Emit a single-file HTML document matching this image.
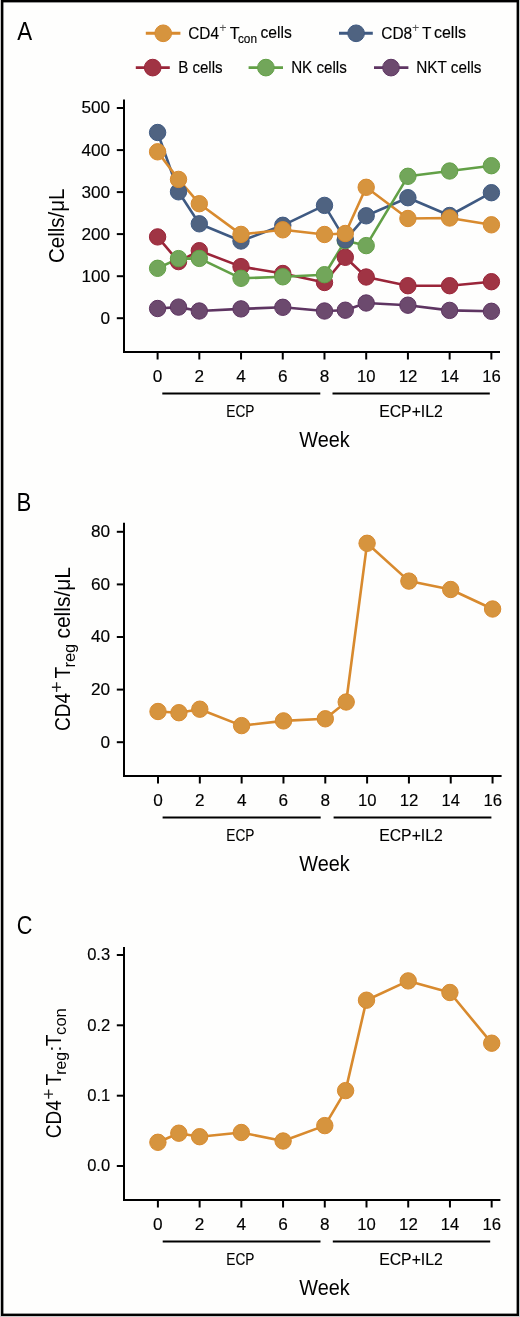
<!DOCTYPE html><html><head><meta charset="utf-8"><style>html,body{margin:0;padding:0;background:#c8c8c8;}svg{display:block;will-change:transform;}text{stroke:#000;stroke-width:0.15px;}g text{stroke-width:0px;}</style></head><body>
<svg width="520" height="1317" viewBox="0 0 520 1317" font-family='"Liberation Sans", sans-serif' fill="#000">
<rect x="0" y="0" width="520" height="1317" fill="#c8c8c8"/>
<rect x="1" y="0" width="518" height="1316" fill="#000"/>
<rect x="3.4" y="2.4" width="513.2" height="1311.2" fill="#fefefd"/>
<text x="17.36" y="39.90" font-size="26.0" textLength="14.89" lengthAdjust="spacingAndGlyphs" style="stroke-width:0">A</text>
<text x="16.58" y="510.70" font-size="26.0" textLength="14.79" lengthAdjust="spacingAndGlyphs" style="stroke-width:0">B</text>
<text x="16.70" y="934.40" font-size="26.0" textLength="15.62" lengthAdjust="spacingAndGlyphs" style="stroke-width:0">C</text>
<line x1="145.8" y1="33.3" x2="180.4" y2="33.3" stroke="#D88A2E" stroke-width="2.9"/>
<circle cx="163.2" cy="33.3" r="8.35" fill="#D6943E" stroke="#D88A2E" stroke-width="1"/>
<line x1="339" y1="33.3" x2="372.8" y2="33.3" stroke="#3F5A82" stroke-width="2.9"/>
<circle cx="356.1" cy="33.3" r="8.35" fill="#4F6381" stroke="#3F5A82" stroke-width="1"/>
<line x1="135.8" y1="67.6" x2="169.8" y2="67.6" stroke="#9A2539" stroke-width="2.9"/>
<circle cx="152.7" cy="67.6" r="8.35" fill="#A03444" stroke="#9A2539" stroke-width="1"/>
<line x1="248.6" y1="67.6" x2="283" y2="67.6" stroke="#62A046" stroke-width="2.9"/>
<circle cx="265.9" cy="67.6" r="8.35" fill="#72A65A" stroke="#62A046" stroke-width="1"/>
<line x1="374" y1="67.6" x2="408.4" y2="67.6" stroke="#5E3562" stroke-width="2.9"/>
<circle cx="391" cy="67.6" r="8.35" fill="#6C4A6E" stroke="#5E3562" stroke-width="1"/>
<text x="188.22" y="38.50" font-size="16.5" textLength="30.73" lengthAdjust="spacingAndGlyphs">CD4</text>
<text x="219.19" y="32.30" font-size="12.47" textLength="7.33" lengthAdjust="spacingAndGlyphs" fill="#555" style="stroke:none">+</text>
<text x="229.64" y="38.50" font-size="16.5" textLength="9.83" lengthAdjust="spacingAndGlyphs">T</text>
<text x="237.90" y="42.90" font-size="12.8" textLength="19.07" lengthAdjust="spacingAndGlyphs">con</text>
<text x="260.43" y="38.40" font-size="16.5" textLength="31.33" lengthAdjust="spacingAndGlyphs">cells</text>
<text x="381.21" y="38.50" font-size="16.5" textLength="30.96" lengthAdjust="spacingAndGlyphs">CD8</text>
<text x="411.99" y="32.30" font-size="12.47" textLength="7.33" lengthAdjust="spacingAndGlyphs" fill="#555" style="stroke:none">+</text>
<text x="422.05" y="38.50" font-size="16.5" textLength="9.40" lengthAdjust="spacingAndGlyphs">T</text>
<text x="433.92" y="38.40" font-size="16.5" textLength="32.06" lengthAdjust="spacingAndGlyphs">cells</text>
<text x="178.16" y="72.80" font-size="16.5" textLength="44.48" lengthAdjust="spacingAndGlyphs">B cells</text>
<text x="291.15" y="72.80" font-size="16.5" textLength="55.69" lengthAdjust="spacingAndGlyphs">NK cells</text>
<text x="416.25" y="72.70" font-size="16.5" textLength="65.20" lengthAdjust="spacingAndGlyphs">NKT cells</text>
<line x1="124" y1="99.6" x2="124" y2="353" stroke="#000" stroke-width="2"/>
<line x1="123" y1="352" x2="500" y2="352" stroke="#000" stroke-width="2"/>
<line x1="116.8" y1="108" x2="124" y2="108" stroke="#000" stroke-width="2"/>
<text x="81.47" y="113.42" font-size="17.2">500</text>
<line x1="116.8" y1="150.1" x2="124" y2="150.1" stroke="#000" stroke-width="2"/>
<text x="81.47" y="155.52" font-size="17.2">400</text>
<line x1="116.8" y1="192.1" x2="124" y2="192.1" stroke="#000" stroke-width="2"/>
<text x="81.47" y="197.52" font-size="17.2">300</text>
<line x1="116.8" y1="234.1" x2="124" y2="234.1" stroke="#000" stroke-width="2"/>
<text x="81.47" y="239.52" font-size="17.2">200</text>
<line x1="116.8" y1="276.2" x2="124" y2="276.2" stroke="#000" stroke-width="2"/>
<text x="81.47" y="281.62" font-size="17.2">100</text>
<line x1="116.8" y1="318.2" x2="124" y2="318.2" stroke="#000" stroke-width="2"/>
<text x="100.61" y="323.62" font-size="17.2">0</text>
<line x1="157.6" y1="352" x2="157.6" y2="359.5" stroke="#000" stroke-width="2"/>
<text x="152.82" y="382.20" font-size="17.2">0</text>
<line x1="199.32" y1="352" x2="199.32" y2="359.5" stroke="#000" stroke-width="2"/>
<text x="194.54" y="382.20" font-size="17.2">2</text>
<line x1="241.04" y1="352" x2="241.04" y2="359.5" stroke="#000" stroke-width="2"/>
<text x="236.31" y="382.20" font-size="17.2">4</text>
<line x1="282.76" y1="352" x2="282.76" y2="359.5" stroke="#000" stroke-width="2"/>
<text x="277.92" y="382.20" font-size="17.2">6</text>
<line x1="324.48" y1="352" x2="324.48" y2="359.5" stroke="#000" stroke-width="2"/>
<text x="319.70" y="382.20" font-size="17.2">8</text>
<line x1="366.2" y1="352" x2="366.2" y2="359.5" stroke="#000" stroke-width="2"/>
<text x="357.03" y="382.20" font-size="17.2" textLength="18.52" lengthAdjust="spacingAndGlyphs">10</text>
<line x1="407.91999999999996" y1="352" x2="407.91999999999996" y2="359.5" stroke="#000" stroke-width="2"/>
<text x="398.74" y="382.20" font-size="17.2" textLength="18.73" lengthAdjust="spacingAndGlyphs">12</text>
<line x1="449.64" y1="352" x2="449.64" y2="359.5" stroke="#000" stroke-width="2"/>
<text x="440.48" y="382.20" font-size="17.2" textLength="18.34" lengthAdjust="spacingAndGlyphs">14</text>
<line x1="491.36" y1="352" x2="491.36" y2="359.5" stroke="#000" stroke-width="2"/>
<text x="482.19" y="382.20" font-size="17.2" textLength="18.61" lengthAdjust="spacingAndGlyphs">16</text>
<line x1="162.3" y1="393.5" x2="320.3" y2="393.5" stroke="#000" stroke-width="2"/>
<line x1="332.5" y1="393.5" x2="489.8" y2="393.5" stroke="#000" stroke-width="2"/>
<text x="226.28" y="416.90" font-size="17.4" textLength="28.14" lengthAdjust="spacingAndGlyphs">ECP</text>
<text x="379.21" y="416.80" font-size="17.4" textLength="63.59" lengthAdjust="spacingAndGlyphs">ECP+IL2</text>
<text x="299.31" y="447.30" font-size="21.8" textLength="50.36" lengthAdjust="spacingAndGlyphs" style="stroke-width:0">Week</text>
<g transform="translate(63.8,261.9) rotate(-90)">
<text x="-1.04" y="0.00" font-size="22" textLength="74.42" lengthAdjust="spacingAndGlyphs" style="stroke-width:0">Cells/μL</text>
</g>
<polyline points="157.6,132.5 178.5,191.8 199.3,223.8 241.0,241.0 282.8,225.3 324.5,205.4 345.3,239.8 366.2,215.8 407.9,197.7 449.6,215.5 491.4,192.7" fill="none" stroke="#3F5A82" stroke-width="2.6" stroke-linejoin="round"/><polyline points="157.6,151.8 178.5,179.4 199.3,203.7 241.0,234.4 282.8,229.8 324.5,234.5 345.3,233.5 366.2,187.3 407.9,218.5 449.6,218.0 491.4,224.8" fill="none" stroke="#D88A2E" stroke-width="2.6" stroke-linejoin="round"/><polyline points="157.6,308.5 178.5,307.1 199.3,311.0 241.0,308.9 282.8,307.3 324.5,311.0 345.3,310.2 366.2,303.0 407.9,305.2 449.6,310.4 491.4,311.3" fill="none" stroke="#5E3562" stroke-width="2.6" stroke-linejoin="round"/><polyline points="157.6,236.9 178.5,261.6 199.3,250.7 241.0,266.6 282.8,273.5 324.5,282.5 345.3,257.3 366.2,277.0 407.9,285.7 449.6,285.7 491.4,281.7" fill="none" stroke="#9A2539" stroke-width="2.6" stroke-linejoin="round"/><polyline points="157.6,268.3 178.5,258.6 199.3,258.4 241.0,278.3 282.8,276.8 324.5,274.7 345.3,240.7 366.2,245.6 407.9,176.3 449.6,171.0 491.4,165.7" fill="none" stroke="#62A046" stroke-width="2.6" stroke-linejoin="round"/>
<circle cx="157.6" cy="308.5" r="8.2" fill="#6C4A6E" stroke="#5E3562" stroke-width="1"/><circle cx="178.5" cy="307.1" r="8.2" fill="#6C4A6E" stroke="#5E3562" stroke-width="1"/><circle cx="199.3" cy="311.0" r="8.2" fill="#6C4A6E" stroke="#5E3562" stroke-width="1"/><circle cx="241.0" cy="308.9" r="8.2" fill="#6C4A6E" stroke="#5E3562" stroke-width="1"/><circle cx="282.8" cy="307.3" r="8.2" fill="#6C4A6E" stroke="#5E3562" stroke-width="1"/><circle cx="324.5" cy="311.0" r="8.2" fill="#6C4A6E" stroke="#5E3562" stroke-width="1"/><circle cx="345.3" cy="310.2" r="8.2" fill="#6C4A6E" stroke="#5E3562" stroke-width="1"/><circle cx="366.2" cy="303.0" r="8.2" fill="#6C4A6E" stroke="#5E3562" stroke-width="1"/><circle cx="407.9" cy="305.2" r="8.2" fill="#6C4A6E" stroke="#5E3562" stroke-width="1"/><circle cx="449.6" cy="310.4" r="8.2" fill="#6C4A6E" stroke="#5E3562" stroke-width="1"/><circle cx="491.4" cy="311.3" r="8.2" fill="#6C4A6E" stroke="#5E3562" stroke-width="1"/><circle cx="157.6" cy="236.9" r="8.2" fill="#A03444" stroke="#9A2539" stroke-width="1"/><circle cx="178.5" cy="261.6" r="8.2" fill="#A03444" stroke="#9A2539" stroke-width="1"/><circle cx="199.3" cy="250.7" r="8.2" fill="#A03444" stroke="#9A2539" stroke-width="1"/><circle cx="241.0" cy="266.6" r="8.2" fill="#A03444" stroke="#9A2539" stroke-width="1"/><circle cx="282.8" cy="273.5" r="8.2" fill="#A03444" stroke="#9A2539" stroke-width="1"/><circle cx="324.5" cy="282.5" r="8.2" fill="#A03444" stroke="#9A2539" stroke-width="1"/><circle cx="345.3" cy="257.3" r="8.2" fill="#A03444" stroke="#9A2539" stroke-width="1"/><circle cx="366.2" cy="277.0" r="8.2" fill="#A03444" stroke="#9A2539" stroke-width="1"/><circle cx="407.9" cy="285.7" r="8.2" fill="#A03444" stroke="#9A2539" stroke-width="1"/><circle cx="449.6" cy="285.7" r="8.2" fill="#A03444" stroke="#9A2539" stroke-width="1"/><circle cx="491.4" cy="281.7" r="8.2" fill="#A03444" stroke="#9A2539" stroke-width="1"/><circle cx="157.6" cy="268.3" r="8.2" fill="#72A65A" stroke="#62A046" stroke-width="1"/><circle cx="178.5" cy="258.6" r="8.2" fill="#72A65A" stroke="#62A046" stroke-width="1"/><circle cx="199.3" cy="258.4" r="8.2" fill="#72A65A" stroke="#62A046" stroke-width="1"/><circle cx="241.0" cy="278.3" r="8.2" fill="#72A65A" stroke="#62A046" stroke-width="1"/><circle cx="282.8" cy="276.8" r="8.2" fill="#72A65A" stroke="#62A046" stroke-width="1"/><circle cx="324.5" cy="274.7" r="8.2" fill="#72A65A" stroke="#62A046" stroke-width="1"/><circle cx="345.3" cy="240.7" r="8.2" fill="#72A65A" stroke="#62A046" stroke-width="1"/><circle cx="366.2" cy="245.6" r="8.2" fill="#72A65A" stroke="#62A046" stroke-width="1"/><circle cx="407.9" cy="176.3" r="8.2" fill="#72A65A" stroke="#62A046" stroke-width="1"/><circle cx="449.6" cy="171.0" r="8.2" fill="#72A65A" stroke="#62A046" stroke-width="1"/><circle cx="491.4" cy="165.7" r="8.2" fill="#72A65A" stroke="#62A046" stroke-width="1"/><circle cx="157.6" cy="132.5" r="8.2" fill="#4F6381" stroke="#3F5A82" stroke-width="1"/><circle cx="178.5" cy="191.8" r="8.2" fill="#4F6381" stroke="#3F5A82" stroke-width="1"/><circle cx="199.3" cy="223.8" r="8.2" fill="#4F6381" stroke="#3F5A82" stroke-width="1"/><circle cx="241.0" cy="241.0" r="8.2" fill="#4F6381" stroke="#3F5A82" stroke-width="1"/><circle cx="282.8" cy="225.3" r="8.2" fill="#4F6381" stroke="#3F5A82" stroke-width="1"/><circle cx="324.5" cy="205.4" r="8.2" fill="#4F6381" stroke="#3F5A82" stroke-width="1"/><circle cx="345.3" cy="239.8" r="8.2" fill="#4F6381" stroke="#3F5A82" stroke-width="1"/><circle cx="366.2" cy="215.8" r="8.2" fill="#4F6381" stroke="#3F5A82" stroke-width="1"/><circle cx="407.9" cy="197.7" r="8.2" fill="#4F6381" stroke="#3F5A82" stroke-width="1"/><circle cx="449.6" cy="215.5" r="8.2" fill="#4F6381" stroke="#3F5A82" stroke-width="1"/><circle cx="491.4" cy="192.7" r="8.2" fill="#4F6381" stroke="#3F5A82" stroke-width="1"/><circle cx="157.6" cy="151.8" r="8.2" fill="#D6943E" stroke="#D88A2E" stroke-width="1"/><circle cx="178.5" cy="179.4" r="8.2" fill="#D6943E" stroke="#D88A2E" stroke-width="1"/><circle cx="199.3" cy="203.7" r="8.2" fill="#D6943E" stroke="#D88A2E" stroke-width="1"/><circle cx="241.0" cy="234.4" r="8.2" fill="#D6943E" stroke="#D88A2E" stroke-width="1"/><circle cx="282.8" cy="229.8" r="8.2" fill="#D6943E" stroke="#D88A2E" stroke-width="1"/><circle cx="324.5" cy="234.5" r="8.2" fill="#D6943E" stroke="#D88A2E" stroke-width="1"/><circle cx="345.3" cy="233.5" r="8.2" fill="#D6943E" stroke="#D88A2E" stroke-width="1"/><circle cx="366.2" cy="187.3" r="8.2" fill="#D6943E" stroke="#D88A2E" stroke-width="1"/><circle cx="407.9" cy="218.5" r="8.2" fill="#D6943E" stroke="#D88A2E" stroke-width="1"/><circle cx="449.6" cy="218.0" r="8.2" fill="#D6943E" stroke="#D88A2E" stroke-width="1"/><circle cx="491.4" cy="224.8" r="8.2" fill="#D6943E" stroke="#D88A2E" stroke-width="1"/>
<line x1="124" y1="522.8" x2="124" y2="777" stroke="#000" stroke-width="2"/>
<line x1="123" y1="776" x2="501.6" y2="776" stroke="#000" stroke-width="2"/>
<line x1="116.8" y1="531.8" x2="124" y2="531.8" stroke="#000" stroke-width="2"/>
<text x="91.04" y="537.22" font-size="17.2">80</text>
<line x1="116.8" y1="584.4" x2="124" y2="584.4" stroke="#000" stroke-width="2"/>
<text x="91.04" y="589.82" font-size="17.2">60</text>
<line x1="116.8" y1="637.0" x2="124" y2="637.0" stroke="#000" stroke-width="2"/>
<text x="91.04" y="642.42" font-size="17.2">40</text>
<line x1="116.8" y1="689.6" x2="124" y2="689.6" stroke="#000" stroke-width="2"/>
<text x="91.04" y="695.02" font-size="17.2">20</text>
<line x1="116.8" y1="742.2" x2="124" y2="742.2" stroke="#000" stroke-width="2"/>
<text x="100.61" y="747.62" font-size="17.2">0</text>
<line x1="158.0" y1="776" x2="158.0" y2="783.5" stroke="#000" stroke-width="2"/>
<text x="153.22" y="806.20" font-size="17.2">0</text>
<line x1="199.82" y1="776" x2="199.82" y2="783.5" stroke="#000" stroke-width="2"/>
<text x="195.04" y="806.20" font-size="17.2">2</text>
<line x1="241.64" y1="776" x2="241.64" y2="783.5" stroke="#000" stroke-width="2"/>
<text x="236.91" y="806.20" font-size="17.2">4</text>
<line x1="283.46000000000004" y1="776" x2="283.46000000000004" y2="783.5" stroke="#000" stroke-width="2"/>
<text x="278.62" y="806.20" font-size="17.2">6</text>
<line x1="325.28" y1="776" x2="325.28" y2="783.5" stroke="#000" stroke-width="2"/>
<text x="320.50" y="806.20" font-size="17.2">8</text>
<line x1="367.1" y1="776" x2="367.1" y2="783.5" stroke="#000" stroke-width="2"/>
<text x="357.93" y="806.20" font-size="17.2" textLength="18.52" lengthAdjust="spacingAndGlyphs">10</text>
<line x1="408.92" y1="776" x2="408.92" y2="783.5" stroke="#000" stroke-width="2"/>
<text x="399.74" y="806.20" font-size="17.2" textLength="18.73" lengthAdjust="spacingAndGlyphs">12</text>
<line x1="450.74" y1="776" x2="450.74" y2="783.5" stroke="#000" stroke-width="2"/>
<text x="441.58" y="806.20" font-size="17.2" textLength="18.34" lengthAdjust="spacingAndGlyphs">14</text>
<line x1="492.56" y1="776" x2="492.56" y2="783.5" stroke="#000" stroke-width="2"/>
<text x="483.39" y="806.20" font-size="17.2" textLength="18.61" lengthAdjust="spacingAndGlyphs">16</text>
<line x1="162.6" y1="817.5" x2="320.7" y2="817.5" stroke="#000" stroke-width="2"/>
<line x1="333.6" y1="817.5" x2="491.4" y2="817.5" stroke="#000" stroke-width="2"/>
<text x="226.28" y="840.90" font-size="17.4" textLength="28.14" lengthAdjust="spacingAndGlyphs">ECP</text>
<text x="379.21" y="840.80" font-size="17.4" textLength="63.59" lengthAdjust="spacingAndGlyphs">ECP+IL2</text>
<text x="299.31" y="871.30" font-size="21.8" textLength="50.36" lengthAdjust="spacingAndGlyphs" style="stroke-width:0">Week</text>
<g transform="translate(70,730) rotate(-90)">
<text x="-0.97" y="0.00" font-size="22" textLength="38.02" lengthAdjust="spacingAndGlyphs" style="stroke-width:0">CD4</text>
<text x="37.13" y="-6.58" font-size="18.40" textLength="11.66" lengthAdjust="spacingAndGlyphs" fill="#222" style="stroke:none">+</text>
<text x="51.47" y="0.00" font-size="22" textLength="11.67" lengthAdjust="spacingAndGlyphs" style="stroke-width:0">T</text>
<text x="62.40" y="4.60" font-size="16.5" textLength="23.86" lengthAdjust="spacingAndGlyphs">reg</text>
<text x="91.41" y="0.00" font-size="22" textLength="71.59" lengthAdjust="spacingAndGlyphs" style="stroke-width:0">cells/μL</text>
</g>
<polyline points="158.0,711.5 178.9,712.7 199.8,709.2 241.6,725.6 283.5,720.9 325.3,718.8 346.2,702.0 367.1,543.3 408.9,581.1 450.7,589.5 492.6,609.0" fill="none" stroke="#D88A2E" stroke-width="2.6" stroke-linejoin="round"/>
<circle cx="158.0" cy="711.5" r="8.2" fill="#D6943E" stroke="#D88A2E" stroke-width="1"/><circle cx="178.9" cy="712.7" r="8.2" fill="#D6943E" stroke="#D88A2E" stroke-width="1"/><circle cx="199.8" cy="709.2" r="8.2" fill="#D6943E" stroke="#D88A2E" stroke-width="1"/><circle cx="241.6" cy="725.6" r="8.2" fill="#D6943E" stroke="#D88A2E" stroke-width="1"/><circle cx="283.5" cy="720.9" r="8.2" fill="#D6943E" stroke="#D88A2E" stroke-width="1"/><circle cx="325.3" cy="718.8" r="8.2" fill="#D6943E" stroke="#D88A2E" stroke-width="1"/><circle cx="346.2" cy="702.0" r="8.2" fill="#D6943E" stroke="#D88A2E" stroke-width="1"/><circle cx="367.1" cy="543.3" r="8.2" fill="#D6943E" stroke="#D88A2E" stroke-width="1"/><circle cx="408.9" cy="581.1" r="8.2" fill="#D6943E" stroke="#D88A2E" stroke-width="1"/><circle cx="450.7" cy="589.5" r="8.2" fill="#D6943E" stroke="#D88A2E" stroke-width="1"/><circle cx="492.6" cy="609.0" r="8.2" fill="#D6943E" stroke="#D88A2E" stroke-width="1"/>
<line x1="124" y1="946.9" x2="124" y2="1201" stroke="#000" stroke-width="2"/>
<line x1="123" y1="1200" x2="500.4" y2="1200" stroke="#000" stroke-width="2"/>
<line x1="116.8" y1="955" x2="124" y2="955" stroke="#000" stroke-width="2"/>
<text x="87.15" y="960.42" font-size="17.2" textLength="23.08" lengthAdjust="spacingAndGlyphs">0.3</text>
<line x1="116.8" y1="1025.3" x2="124" y2="1025.3" stroke="#000" stroke-width="2"/>
<text x="87.15" y="1030.72" font-size="17.2" textLength="23.19" lengthAdjust="spacingAndGlyphs">0.2</text>
<line x1="116.8" y1="1095.7" x2="124" y2="1095.7" stroke="#000" stroke-width="2"/>
<text x="87.15" y="1101.12" font-size="17.2" textLength="23.16" lengthAdjust="spacingAndGlyphs">0.1</text>
<line x1="116.8" y1="1166" x2="124" y2="1166" stroke="#000" stroke-width="2"/>
<text x="87.15" y="1171.42" font-size="17.2" textLength="22.99" lengthAdjust="spacingAndGlyphs">0.0</text>
<line x1="157.9" y1="1200" x2="157.9" y2="1207.5" stroke="#000" stroke-width="2"/>
<text x="153.12" y="1230.20" font-size="17.2">0</text>
<line x1="199.62" y1="1200" x2="199.62" y2="1207.5" stroke="#000" stroke-width="2"/>
<text x="194.84" y="1230.20" font-size="17.2">2</text>
<line x1="241.34" y1="1200" x2="241.34" y2="1207.5" stroke="#000" stroke-width="2"/>
<text x="236.61" y="1230.20" font-size="17.2">4</text>
<line x1="283.06" y1="1200" x2="283.06" y2="1207.5" stroke="#000" stroke-width="2"/>
<text x="278.22" y="1230.20" font-size="17.2">6</text>
<line x1="324.78" y1="1200" x2="324.78" y2="1207.5" stroke="#000" stroke-width="2"/>
<text x="320.00" y="1230.20" font-size="17.2">8</text>
<line x1="366.5" y1="1200" x2="366.5" y2="1207.5" stroke="#000" stroke-width="2"/>
<text x="357.33" y="1230.20" font-size="17.2" textLength="18.52" lengthAdjust="spacingAndGlyphs">10</text>
<line x1="408.22" y1="1200" x2="408.22" y2="1207.5" stroke="#000" stroke-width="2"/>
<text x="399.04" y="1230.20" font-size="17.2" textLength="18.73" lengthAdjust="spacingAndGlyphs">12</text>
<line x1="449.93999999999994" y1="1200" x2="449.93999999999994" y2="1207.5" stroke="#000" stroke-width="2"/>
<text x="440.78" y="1230.20" font-size="17.2" textLength="18.34" lengthAdjust="spacingAndGlyphs">14</text>
<line x1="491.65999999999997" y1="1200" x2="491.65999999999997" y2="1207.5" stroke="#000" stroke-width="2"/>
<text x="482.49" y="1230.20" font-size="17.2" textLength="18.61" lengthAdjust="spacingAndGlyphs">16</text>
<line x1="162.7" y1="1241.5" x2="320.5" y2="1241.5" stroke="#000" stroke-width="2"/>
<line x1="332.8" y1="1241.5" x2="490.2" y2="1241.5" stroke="#000" stroke-width="2"/>
<text x="226.28" y="1264.90" font-size="17.4" textLength="28.14" lengthAdjust="spacingAndGlyphs">ECP</text>
<text x="379.21" y="1264.80" font-size="17.4" textLength="63.59" lengthAdjust="spacingAndGlyphs">ECP+IL2</text>
<text x="299.31" y="1295.30" font-size="21.8" textLength="50.36" lengthAdjust="spacingAndGlyphs" style="stroke-width:0">Week</text>
<g transform="translate(60.8,1137.3) rotate(-90)">
<text x="-0.97" y="0.00" font-size="22" textLength="38.02" lengthAdjust="spacingAndGlyphs" style="stroke-width:0">CD4</text>
<text x="37.56" y="-6.07" font-size="18.60" textLength="11.30" lengthAdjust="spacingAndGlyphs" fill="#222" style="stroke:none">+</text>
<text x="51.87" y="0.00" font-size="22" textLength="11.67" lengthAdjust="spacingAndGlyphs" style="stroke-width:0">T</text>
<text x="62.45" y="5.00" font-size="16.5" textLength="22.76" lengthAdjust="spacingAndGlyphs">reg</text>
<text x="85.29" y="0.00" font-size="18.74" textLength="6.71" lengthAdjust="spacingAndGlyphs" fill="#222" style="stroke:none">:</text>
<text x="91.07" y="0.00" font-size="22" textLength="11.67" lengthAdjust="spacingAndGlyphs" style="stroke-width:0">T</text>
<text x="102.39" y="5.00" font-size="16.5" textLength="26.78" lengthAdjust="spacingAndGlyphs">con</text>
</g>
<polyline points="157.9,1142.3 178.8,1133.2 199.6,1136.7 241.3,1132.5 283.1,1141.0 324.8,1125.6 345.6,1090.6 366.5,1000.2 408.2,980.9 449.9,992.5 491.7,1043.2" fill="none" stroke="#D88A2E" stroke-width="2.6" stroke-linejoin="round"/>
<circle cx="157.9" cy="1142.3" r="8.2" fill="#D6943E" stroke="#D88A2E" stroke-width="1"/><circle cx="178.8" cy="1133.2" r="8.2" fill="#D6943E" stroke="#D88A2E" stroke-width="1"/><circle cx="199.6" cy="1136.7" r="8.2" fill="#D6943E" stroke="#D88A2E" stroke-width="1"/><circle cx="241.3" cy="1132.5" r="8.2" fill="#D6943E" stroke="#D88A2E" stroke-width="1"/><circle cx="283.1" cy="1141.0" r="8.2" fill="#D6943E" stroke="#D88A2E" stroke-width="1"/><circle cx="324.8" cy="1125.6" r="8.2" fill="#D6943E" stroke="#D88A2E" stroke-width="1"/><circle cx="345.6" cy="1090.6" r="8.2" fill="#D6943E" stroke="#D88A2E" stroke-width="1"/><circle cx="366.5" cy="1000.2" r="8.2" fill="#D6943E" stroke="#D88A2E" stroke-width="1"/><circle cx="408.2" cy="980.9" r="8.2" fill="#D6943E" stroke="#D88A2E" stroke-width="1"/><circle cx="449.9" cy="992.5" r="8.2" fill="#D6943E" stroke="#D88A2E" stroke-width="1"/><circle cx="491.7" cy="1043.2" r="8.2" fill="#D6943E" stroke="#D88A2E" stroke-width="1"/>
</svg></body></html>
